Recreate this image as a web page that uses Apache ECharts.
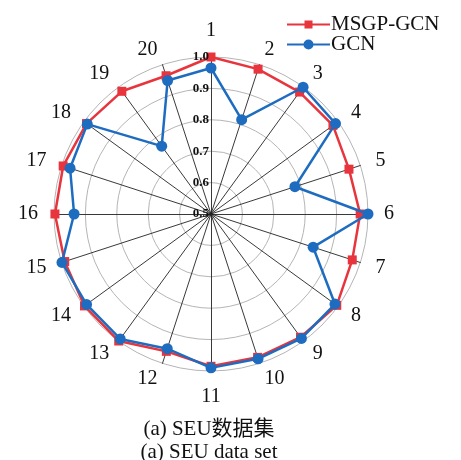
<!DOCTYPE html>
<html>
<head>
<meta charset="utf-8">
<script src="https://cdn.jsdelivr.net/npm/echarts@6/dist/echarts.min.js"></script>
<style>
  html, body { margin: 0; padding: 0; background: #fff; }
  #chart { width: 461px; height: 460px; }
</style>
</head>
<body>
<div id="chart"></div>
<script>
// Accuracy per class (1-20) on the SEU data set
const categories = ['1','2','3','4','5','6','7','8','9','10','11','12','13','14','15','16','17','18','19','20'];
const msgpGcn = [1.0, 0.985, 0.98, 0.98, 0.962, 0.975, 0.973, 0.995, 0.985, 0.98, 0.985, 0.96, 1.0, 0.998, 0.99, 0.997, 0.995, 0.99, 0.983, 0.963];
const gcn = [0.965, 0.816, 0.999, 0.99, 0.781, 1.0, 0.842, 0.988, 0.99, 0.985, 0.99, 0.951, 0.992, 0.99, 0.999, 0.936, 0.972, 0.987, 0.767, 0.947];
const axisMin = 0.5;
const axisMax = 1.0;
const axisStep = 0.1;

const RED = '#e8343c';
const BLUE = '#1e6cc0';
const SERIF = '"Liberation Serif", "Times New Roman", "Noto Sans CJK SC", serif';
const CENTER = [211, 214];
const RADIUS = 157;

// ECharts lays radar axes out counter-clockwise; walk the classes as
// 1, 20, 19, ..., 2 so they read clockwise around the chart.
const order = categories.map((_, i) => (categories.length - i) % categories.length);
const pick = arr => order.map(i => arr[i]);

// legend icons: line with a square / circle marker in the middle
const squareIcon = 'path://M0,5 H17.5 V7 H0 Z M25.5,5 H43 V7 H25.5 Z M17.5,2 H25.5 V10 H17.5 Z';
const circleIcon = 'path://M0,5 H17 V7 H0 Z M26,5 H43 V7 H26 Z M26.5,6 A5,5 0 1,1 16.5,6 A5,5 0 1,1 26.5,6 Z';

const indicators = pick(categories).map(name => ({ name: name, min: axisMin, max: axisMax }));

const chart = echarts.init(document.getElementById('chart'), null, { renderer: 'canvas' });
chart.setOption({
  backgroundColor: '#fff',
  animation: false,
  title: {
    text: '(a) SEU数据集\n(a) SEU data set',
    left: 204,
    textAlign: 'center',
    top: 413,
    textStyle: {
      fontFamily: SERIF,
      fontWeight: 'normal',
      fontSize: 21,
      lineHeight: 23,
      color: '#111'
    }
  },
  legend: {
    orient: 'vertical',
    left: 282,
    top: 9,
    itemWidth: 43,
    itemHeight: 12,
    itemGap: -1,
    textStyle: { fontFamily: SERIF, fontSize: 21, color: '#111', padding: [0, 0, 0, -4] },
    data: [
      { name: 'MSGP-GCN', icon: squareIcon, itemStyle: { color: RED } },
      { name: 'GCN', icon: circleIcon, itemStyle: { color: BLUE } }
    ]
  },
  // polar frame sharing the radar's centre, used only for the 0.5-1.0 scale labels
  polar: { center: CENTER, radius: RADIUS },
  angleAxis: {
    type: 'value', startAngle: 90, min: 0, max: 360,
    show: false
  },
  radiusAxis: {
    type: 'value',
    min: axisMin, max: axisMax, interval: axisStep,
    axisLine: { show: false },
    axisTick: { show: false },
    splitLine: { show: false },
    axisLabel: {
      color: '#111',
      fontFamily: SERIF,
      fontWeight: 'bold',
      fontSize: 13,
      margin: 2,
      formatter: v => Number(v).toFixed(1)
    },
    z: 5
  },
  radar: {
    center: CENTER,
    radius: RADIUS,
    startAngle: 90,
    shape: 'circle',
    splitNumber: 5,
    indicator: indicators,
    axisName: {
      color: '#111',
      fontFamily: SERIF,
      fontSize: 20
    },
    nameGap: 16,
    axisLine: { lineStyle: { color: '#222', width: 0.9 } },
    splitLine: { lineStyle: { color: '#b5b5b5', width: 1 } },
    splitArea: { show: false },
    axisTick: { show: false },
    axisLabel: { show: false }
  },
  series: [
    {
      type: 'radar',
      name: 'MSGP-GCN',
      symbol: 'rect',
      symbolSize: 9,
      lineStyle: { color: RED, width: 2.5 },
      itemStyle: { color: RED },
      data: [{ value: pick(msgpGcn), name: 'MSGP-GCN' }],
      z: 2
    },
    {
      type: 'radar',
      name: 'GCN',
      symbol: 'circle',
      symbolSize: 11,
      lineStyle: { color: BLUE, width: 2.5 },
      itemStyle: { color: BLUE },
      data: [{ value: pick(gcn), name: 'GCN' }],
      z: 3
    }
  ]
});
</script>
</body>
</html>
